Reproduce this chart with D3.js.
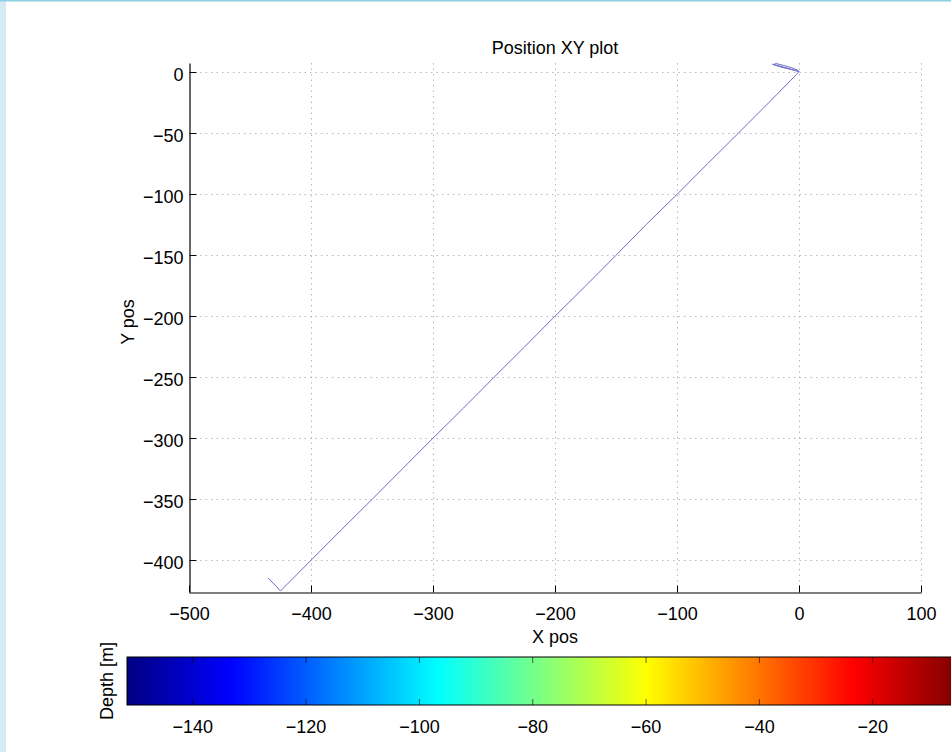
<!DOCTYPE html>
<html><head><meta charset="utf-8">
<script src="https://cdn.jsdelivr.net/npm/d3@7"></script>
<style>
html,body{margin:0;padding:0;background:#fff;overflow:hidden;}
svg{display:block;font-family:"Liberation Sans",Arial,Helvetica,sans-serif;}
</style></head>
<body>
<svg id="chart" width="951" height="752"></svg>
<script>
// ---- data ----
const trackX = [-22, -16, -9, -3, 0, -1, -6, -13, -19, -21, -14, -6, 0, -2,
  -25, -50, -75, -100, -125, -150, -175, -200, -225, -250, -275, -300, -325, -350, -375, -400, -420, -425, -428, -432, -435];
const trackY = [6.5, 5, 3, 1.2, 0.3, 1.5, 3.5, 5.5, 7, 6, 3.8, 2, 0.5, -2,
  -25.3, -50.4, -75.2, -100.3, -124.8, -150.2, -175.4, -200.1, -225.3, -250.2, -275.4, -300.1, -325.2, -350.3, -375.1, -400.2, -420.3, -425.4, -422, -418, -414.8];
const xTicks = [-500, -400, -300, -200, -100, 0, 100];
const yTicks = [0, -50, -100, -150, -200, -250, -300, -350, -400];
const cbarTicks = [-140, -120, -100, -80, -60, -40, -20];
const xDomain = [-500, 100];
const yDomain = [-426.2, 7.4];
const depthDomain = [-151.6, -5];
const titleText = "Position XY plot";
const xLabel = "X pos";
const yLabel = "Y pos";
const cbarLabel = "Depth [m]";

// ---- layout ----
const svg = d3.select("#chart");
const FS = 18;
const minus = s => String(s).replace("-", "\u2212");

// frame decorations
svg.append("rect").attr("x",0).attr("y",0).attr("width",951).attr("height",752).attr("fill","#ffffff");
svg.append("rect").attr("x",0).attr("y",0).attr("width",6).attr("height",752).attr("fill","#d5eaf2");
svg.append("rect").attr("x",0).attr("y",0).attr("width",951).attr("height",1.5).attr("fill","#8fcfe2");

const x = d3.scaleLinear().domain(xDomain).range([189, 921]);
const y = d3.scaleLinear().domain(yDomain).range([592, 63]);

// grid
const grid = svg.append("g").attr("stroke","#b8b8b8").attr("stroke-width",1).attr("stroke-dasharray","1.5,4");
grid.selectAll(".gx").data(xTicks.slice(1)).join("line")
  .attr("x1",d=>Math.round(x(d))+0.5).attr("x2",d=>Math.round(x(d))+0.5)
  .attr("y1",y.range()[1]).attr("y2",y.range()[0]);
grid.selectAll(".gy").data(yTicks).join("line")
  .attr("y1",d=>Math.round(y(d))+0.5).attr("y2",d=>Math.round(y(d))+0.5)
  .attr("x1",x.range()[0]).attr("x2",x.range()[1]);

// axes (ticks pointing inward, matlab style)
const xAxis = d3.axisBottom(x).tickValues(xTicks).tickSizeInner(-7).tickSizeOuter(0).tickPadding(15).tickFormat(minus);
const gx = svg.append("g").attr("transform","translate(0,592.5)").call(xAxis);
const yAxis = d3.axisLeft(y).tickValues(yTicks).tickSizeInner(-7).tickSizeOuter(0).tickPadding(6).tickFormat(minus);
const gy = svg.append("g").attr("transform","translate(189.5,0)").call(yAxis);
[gx, gy].forEach(g => {
  g.select(".domain").attr("stroke","#000").attr("stroke-width",1.2);
  g.selectAll(".tick line").attr("stroke","#000").attr("stroke-width",1);
  g.selectAll(".tick text").attr("fill","#000").style("font-size",FS+"px").style("font-family","'Liberation Sans',Arial,sans-serif");
});
gy.selectAll(".tick text").attr("dy","0.45em");

// trajectory
const pts = trackX.map((d,i)=>[d, trackY[i]]);
svg.append("path").datum(pts)
  .attr("d", d3.line().x(d=>x(d[0])).y(d=>y(d[1])))
  .attr("fill","none").attr("stroke","#6e6ec8").attr("stroke-width",1).attr("stroke-linejoin","round");

// labels
svg.append("text").attr("x",555).attr("y",54).attr("text-anchor","middle").style("font-size",FS+"px").text(titleText);
svg.append("text").attr("x",555).attr("y",643).attr("text-anchor","middle").style("font-size",FS+"px").text(xLabel);
svg.append("text").attr("transform","translate(134,322) rotate(-90)").attr("text-anchor","middle").style("font-size",FS+"px").text(yLabel);

// colorbar (jet)
function jet(t){
  const c = v => Math.max(0, Math.min(1, v));
  const r = c(1.5 - Math.abs(4*t - 3)), g = c(1.5 - Math.abs(4*t - 2)), b = c(1.5 - Math.abs(4*t - 1));
  return d3.rgb(r*255, g*255, b*255).toString();
}
const cx = d3.scaleLinear().domain(depthDomain).range([127, 127 + (depthDomain[1]-depthDomain[0])*(680/120)]);
const defs = svg.append("defs");
const grad = defs.append("linearGradient").attr("id","jetgrad").attr("x1","0%").attr("x2","100%").attr("y1","0%").attr("y2","0%");
d3.range(0, 1.0001, 0.0625).forEach(t => grad.append("stop").attr("offset", (t*100)+"%").attr("stop-color", jet(t)));
const cbTop = 657, cbBot = 705;
svg.append("rect").attr("x",cx.range()[0]).attr("y",cbTop).attr("width",cx.range()[1]-cx.range()[0]).attr("height",cbBot-cbTop)
  .attr("fill","url(#jetgrad)").attr("stroke","#000").attr("stroke-width",1);
const cbt = svg.append("g");
cbt.selectAll(".t1").data(cbarTicks).join("line")
  .attr("x1",d=>cx(d)).attr("x2",d=>cx(d)).attr("y1",cbTop).attr("y2",cbTop+6).attr("stroke","#000").attr("stroke-opacity",0.6);
cbt.selectAll(".t2").data(cbarTicks).join("line")
  .attr("x1",d=>cx(d)).attr("x2",d=>cx(d)).attr("y1",cbBot-6).attr("y2",cbBot).attr("stroke","#000").attr("stroke-opacity",0.6);
cbt.selectAll("text").data(cbarTicks).join("text")
  .attr("x",d=>cx(d)).attr("y",733).attr("text-anchor","middle").style("font-size",FS+"px").text(minus);
svg.append("text").attr("transform","translate(113,681) rotate(-90)").attr("text-anchor","middle").style("font-size",FS+"px").text(cbarLabel);
</script>
</body></html>
